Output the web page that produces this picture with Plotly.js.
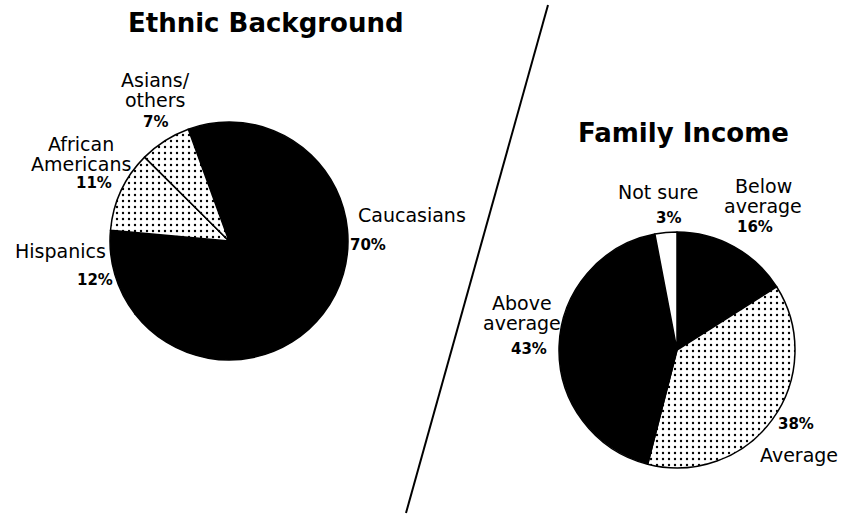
<!DOCTYPE html>
<html>
<head>
<meta charset="utf-8">
<script src="https://cdn.plot.ly/plotly-3.0.1.min.js"></script>
<style>
  html, body { margin: 0; padding: 0; background: #ffffff; }
  #chart { width: 841px; height: 516px; }
</style>
</head>
<body>
<div id="chart"></div>
<script>
// ---- data ----
var ethnicTitle = 'Ethnic Background';
var ethnicLabels = ['Caucasians', 'Hispanics', 'African<br>Americans', 'Asians/<br>others'];
var ethnicValues = [70, 12, 11, 7];

var incomeTitle = 'Family Income';
var incomeLabels = ['Below<br>average', 'Average', 'Above<br>average', 'Not sure'];
var incomeValues = [16, 38, 43, 3];

// ---- styles / positions (pixels from top-left of the 841x516 page) ----
var W = 841, H = 516;
var ethnicFill = ['#000000', '#000000', '#ffffff', '#ffffff'];
var ethnicPattern = ['', '', '.', '.'];
var incomeFill = ['#000000', '#ffffff', '#000000', '#ffffff'];
var incomePattern = ['', '.', '', ''];

// name: centre of first line; pct: centre of percentage
var ethnicNamePos = [[412, 215], [60, 251], [81, 144], [155, 80]];
var ethnicPctPos  = [[368, 245], [95, 280], [94, 183], [155, 122]];
var incomeNamePos = [[763, 186], [799, 455], [522, 303], [658, 192]];
var incomePctPos  = [[755, 227], [796, 424], [529, 349], [668, 218]];

function px(x) { return x / W; }
function py(y) { return 1 - y / H; }

var nameFont = {family: 'DejaVu Sans', size: 19, color: '#000000'};
var pctFont = {family: 'DejaVu Sans', size: 15, color: '#000000', weight: 'bold'};
var titleFont = {family: 'DejaVu Sans', size: 26, color: '#000000', weight: 'bold'};
var lineStep = 20;

var annotations = [];
function addLabels(labels, values, namePos, pctPos) {
  for (var i = 0; i < labels.length; i++) {
    var lines = labels[i].split('<br>');
    for (var j = 0; j < lines.length; j++) {
      annotations.push({
        xref: 'paper', yref: 'paper',
        x: px(namePos[i][0]), y: py(namePos[i][1] + j * lineStep),
        xanchor: 'center', yanchor: 'middle',
        text: lines[j], showarrow: false, font: nameFont
      });
    }
    annotations.push({
      xref: 'paper', yref: 'paper',
      x: px(pctPos[i][0]), y: py(pctPos[i][1]),
      xanchor: 'center', yanchor: 'middle',
      text: values[i] + '%', showarrow: false, font: pctFont
    });
  }
}
addLabels(ethnicLabels, ethnicValues, ethnicNamePos, ethnicPctPos);
addLabels(incomeLabels, incomeValues, incomeNamePos, incomePctPos);

annotations.push({xref: 'paper', yref: 'paper', x: px(266), y: py(23), xanchor: 'center', yanchor: 'middle',
  text: '<b>' + ethnicTitle + '</b>', showarrow: false, font: titleFont});
annotations.push({xref: 'paper', yref: 'paper', x: px(683), y: py(133), xanchor: 'center', yanchor: 'middle',
  text: '<b>' + incomeTitle + '</b>', showarrow: false, font: titleFont});

var traces = [
  {
    type: 'pie', labels: ethnicLabels, values: ethnicValues,
    sort: false, direction: 'clockwise', rotation: -20,
    textinfo: 'none', hoverinfo: 'label+percent',
    domain: {x: [px(110), px(348)], y: [py(360), py(122)]},
    marker: {
      colors: ethnicFill,
      line: {color: '#000000', width: 1.5},
      pattern: {shape: ethnicPattern, fgcolor: '#000000', bgcolor: '#ffffff', size: 6, solidity: 0.12}
    }
  },
  {
    type: 'pie', labels: incomeLabels, values: incomeValues,
    sort: false, direction: 'clockwise', rotation: 0,
    textinfo: 'none', hoverinfo: 'label+percent',
    domain: {x: [px(559), px(795)], y: [py(468), py(232)]},
    marker: {
      colors: incomeFill,
      line: {color: '#000000', width: 1.5},
      pattern: {shape: incomePattern, fgcolor: '#000000', bgcolor: '#ffffff', size: 6, solidity: 0.12}
    }
  }
];

var layout = {
  width: W, height: H,
  margin: {l: 0, r: 0, t: 0, b: 0},
  paper_bgcolor: '#ffffff', plot_bgcolor: '#ffffff',
  showlegend: false,
  annotations: annotations,
  shapes: [{
    type: 'line', xref: 'paper', yref: 'paper',
    x0: px(548), y0: py(5), x1: px(406), y1: py(513),
    line: {color: '#000000', width: 2}
  }]
};

Plotly.newPlot('chart', traces, layout, {displayModeBar: false, staticPlot: true});
</script>
</body>
</html>
